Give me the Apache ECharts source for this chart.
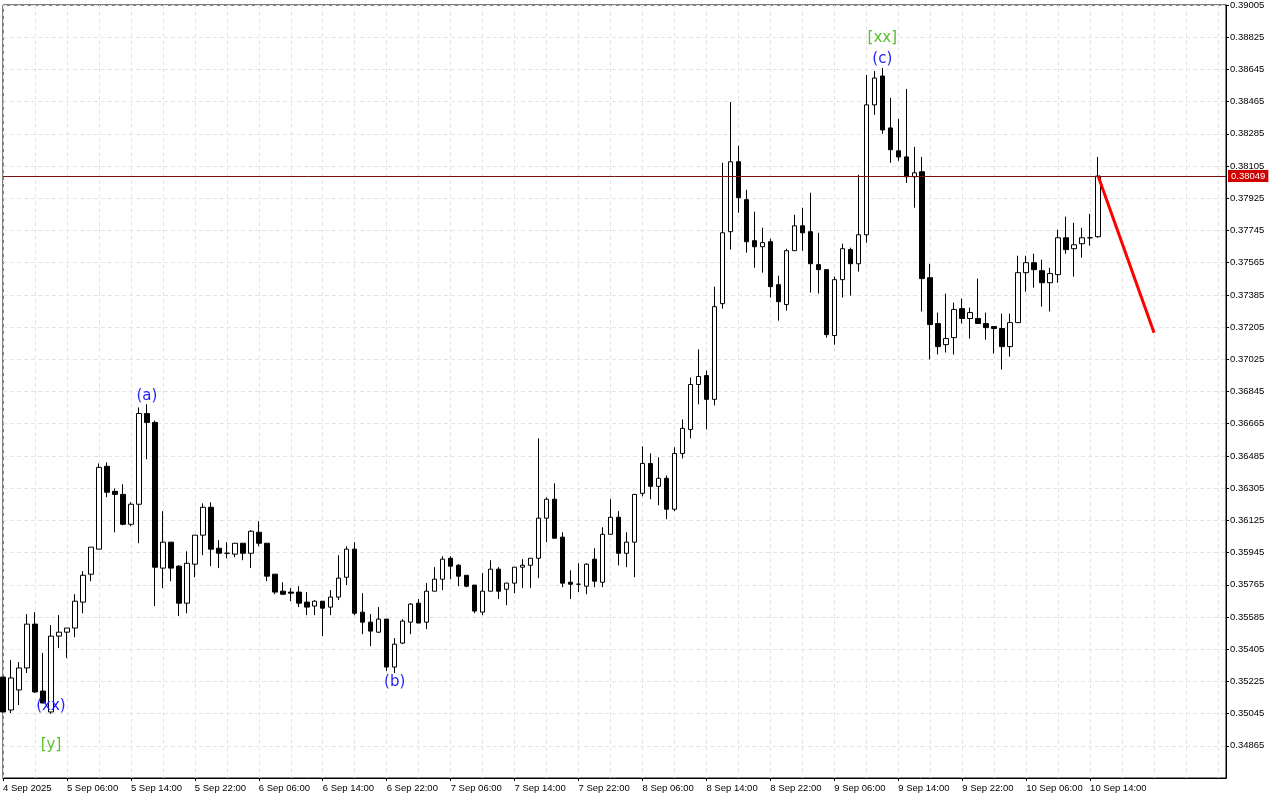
<!DOCTYPE html>
<html>
<head>
<meta charset="utf-8">
<script src="https://cdn.jsdelivr.net/npm/echarts@6/dist/echarts.min.js"></script>
<style>
  html, body { margin: 0; padding: 0; background: #fff; }
  #main { width: 1280px; height: 800px; }
</style>
</head>
<body>
<div id="main"></div>
<script>
'use strict';

// hourly bars (prices * 1e5)
var opens = [35249,35065,35177,35300,35545,35171,35054,35478,35500,35523,35668,35824,35964,36427,36287,36270,36103,36215,36722,36672,
  35858,36003,35869,35662,35880,36042,36198,35969,35941,35936,35997,35941,36058,35997,35824,35729,35724,35724,35668,35646,
  35673,35640,35696,35807,35964,35612,35556,35500,35573,35305,35439,35556,35662,35556,35729,35796,35913,35874,35818,35763,
  35612,35729,35852,35740,35774,35863,35874,35913,36137,36243,36031,35779,35768,35757,35908,35779,36047,36142,35941,36003,
  36276,36443,36315,36360,36187,36499,36633,36884,36934,36801,37336,37738,38129,37917,37688,37654,37682,37442,37331,37632,
  37771,37738,37554,37526,37158,37470,37638,37559,37721,38447,38608,38318,38190,38156,38045,38073,37481,37225,37107,37146,
  37308,37253,37253,37225,37208,37197,37096,37230,37509,37565,37520,37453,37498,37704,37643,37671,37704,37710];
var closes = [35054,35244,35300,35545,35166,35104,35478,35500,35523,35673,35818,35975,36421,36282,36270,36103,36215,36722,36672,35863,
  36003,35858,35662,35885,36042,36198,35964,35941,35941,35997,35941,36064,35997,35813,35724,35712,35718,35662,35640,35673,
  35634,35696,35802,35964,35606,35556,35506,35573,35305,35433,35562,35657,35551,35729,35796,35908,35869,35813,35757,35618,
  35729,35852,35729,35774,35863,35874,35913,36137,36243,36025,35774,35768,35768,35880,35785,36047,36142,35941,36003,36270,
  36443,36315,36360,36187,36499,36639,36884,36929,36801,37319,37732,38129,37928,37682,37654,37677,37431,37347,37632,37771,
  37732,37559,37526,37163,37470,37643,37559,37721,38447,38597,38307,38196,38156,38045,38067,37476,37219,37096,37141,37303,
  37253,37286,37225,37202,37197,37096,37230,37509,37565,37526,37453,37504,37704,37638,37665,37704,37704,38049];
var lows = [35054,35048,35093,35272,35160,35104,35043,35411,35355,35472,35606,35785,35964,36254,36058,36097,36092,35997,36466,35646,
  35746,35785,35590,35606,35807,35930,35869,35858,35913,35919,35902,35858,35980,35785,35712,35707,35673,35640,35595,35595,
  35478,35595,35679,35763,35595,35489,35422,35495,35283,35272,35433,35489,35551,35517,35729,35735,35796,35757,35751,35606,
  35595,35729,35685,35651,35718,35746,35746,35802,36003,36025,35751,35685,35724,35712,35751,35751,36047,35874,35863,35807,
  36259,36243,36209,36131,36176,36471,36583,36773,36633,36767,37308,37638,37844,37621,37537,37509,37370,37241,37297,37632,
  37632,37398,37392,37146,37107,37370,37381,37515,37677,38391,38285,38123,38134,38011,37872,37292,37024,37052,37063,37052,
  37225,37141,37225,37135,37057,36968,37040,37230,37403,37425,37319,37292,37453,37615,37487,37593,37660,37704];
var highs = [35249,35344,35333,35601,35612,35383,35540,35595,35523,35712,35841,35975,36443,36449,36304,36326,36226,36756,36773,36683,
  36176,36003,35874,35952,36042,36220,36226,36014,36003,35997,35997,36070,36120,35997,35824,35779,35746,35757,35724,35679,
  35673,35735,35930,35980,36003,35718,35601,35640,35573,35467,35573,35662,35685,35774,35863,35924,35924,35880,35818,35763,
  35830,35902,35863,35774,35863,35908,35913,36583,36254,36332,36058,35846,35885,35885,35969,36086,36243,36176,36058,36270,
  36538,36499,36477,36376,36533,36689,36923,37080,36962,37431,38123,38463,38218,37972,37850,37760,37699,37492,37643,37833,
  37872,37956,37732,37526,37487,37671,37649,38056,38614,38636,38653,38486,38369,38536,38212,38156,37559,37286,37392,37342,
  37364,37314,37476,37286,37208,37280,37280,37604,37604,37615,37582,37537,37749,37822,37788,37760,37838,38156];

// x tick labels, one every 8 bars
var tickLabels = ['4 Sep 2025','5 Sep 06:00','5 Sep 14:00','5 Sep 22:00','6 Sep 06:00','6 Sep 14:00',
  '6 Sep 22:00','7 Sep 06:00','7 Sep 14:00','7 Sep 22:00','8 Sep 06:00','8 Sep 14:00',
  '8 Sep 22:00','9 Sep 06:00','9 Sep 14:00','9 Sep 22:00','10 Sep 06:00','10 Sep 14:00'];

// projection line: [bar index, price]
var projection = [[137, 0.38049], [144, 0.37174]];
var lastPrice = 0.38049;

// wave labels: [bar index, price, text, colour]
var waveLabels = [
  [6, 0.35088, '(xx)', '#1f1fff'],
  [6, 0.34870, '[y]', '#5cc02a'],
  [18, 0.36817, '(a)', '#1f1fff'],
  [49, 0.35221, '(b)', '#1f1fff'],
  [110, 0.38703, '(c)', '#1f1fff'],
  [110, 0.38821, '[xx]', '#5cc02a']
];

var BASE = 0.34865;   // axis values are shifted so ticks start at 0
var STEP = 0.0018;
var totalBars = 154;

var categories = [];
for (var i = 0; i < totalBars; i++) categories.push(String(i));

function rel(p) { return +(p - BASE).toFixed(6); }

var candles = opens.map(function (o, i) {
  return [rel(o / 1e5), rel(closes[i] / 1e5), rel(lows[i] / 1e5), rel(highs[i] / 1e5)];
});

var projData = categories.map(function () { return null; });
projection.forEach(function (p) { projData[p[0]] = rel(p[1]); });

var myChart = echarts.init(document.getElementById('main'));

var option = {
  animation: false,
  backgroundColor: '#fff',
  grid: { left: 2, right: 54, top: 4, bottom: 22, show: true, borderColor: '#000', borderWidth: 1 },
  xAxis: {
    type: 'category',
    data: categories,
    boundaryGap: false,
    axisLine: { onZero: false, lineStyle: { color: '#000' } },
    axisTick: { interval: function (i) { return i % 8 === 0 && i <= 136; }, length: 3, lineStyle: { color: '#000' } },
    axisLabel: {
      interval: function (i) { return i % 8 === 0 && i <= 136; },
      formatter: function (v, i) { return tickLabels[i / 8] || ''; },
      align: 'left', margin: 5,
      fontFamily: 'Liberation Sans', fontSize: 9.5, color: '#000'
    },
    splitLine: {
      show: true,
      interval: function (i) { return i % 4 === 0; },
      lineStyle: { color: '#e4e4e4', type: [4, 3] }
    }
  },
  yAxis: {
    type: 'value',
    position: 'right',
    min: -STEP,
    max: 23 * STEP,
    interval: STEP,
    axisLine: { show: true, lineStyle: { color: '#000' } },
    axisTick: { show: true, length: 3, lineStyle: { color: '#000' } },
    axisLabel: {
      formatter: function (v) { return (v + BASE).toFixed(5); },
      showMinLabel: false,
      margin: 4,
      fontFamily: 'Liberation Sans', fontSize: 9.5, color: '#000'
    },
    splitLine: { lineStyle: { color: '#e4e4e4', type: [4, 3] } }
  },
  series: [
    {
      type: 'candlestick',
      data: candles,
      barWidth: 5,
      itemStyle: { color: '#fff', color0: '#000', borderColor: '#000', borderColor0: '#000', borderWidth: 1 }
    },
    {
      type: 'line',
      data: projData,
      connectNulls: true,
      symbol: 'none',
      lineStyle: { color: '#ff0000', width: 3 },
      markLine: {
        symbol: 'none',
        silent: true,
        data: [[
          { coord: ['0', rel(lastPrice)] },
          { coord: [String(totalBars - 1), rel(lastPrice)] }
        ]],
        lineStyle: { color: '#7a1010', width: 1, type: 'solid' },
        label: {
          position: 'end', distance: 2,
          formatter: lastPrice.toFixed(5),
          backgroundColor: '#d00000', color: '#fff',
          fontFamily: 'Liberation Sans', fontSize: 9.5, padding: [1, 3]
        }
      }
    },
    {
      type: 'scatter',
      symbolSize: 0,
      itemStyle: { opacity: 1 },
      data: waveLabels.map(function (w) {
        return {
          value: [String(w[0]), rel(w[1])],
          label: { show: true, position: 'inside', formatter: w[2], color: w[3], fontSize: 15, fontFamily: 'DejaVu Sans' }
        };
      })
    }
  ]
};

myChart.setOption(option);
</script>
</body>
</html>
